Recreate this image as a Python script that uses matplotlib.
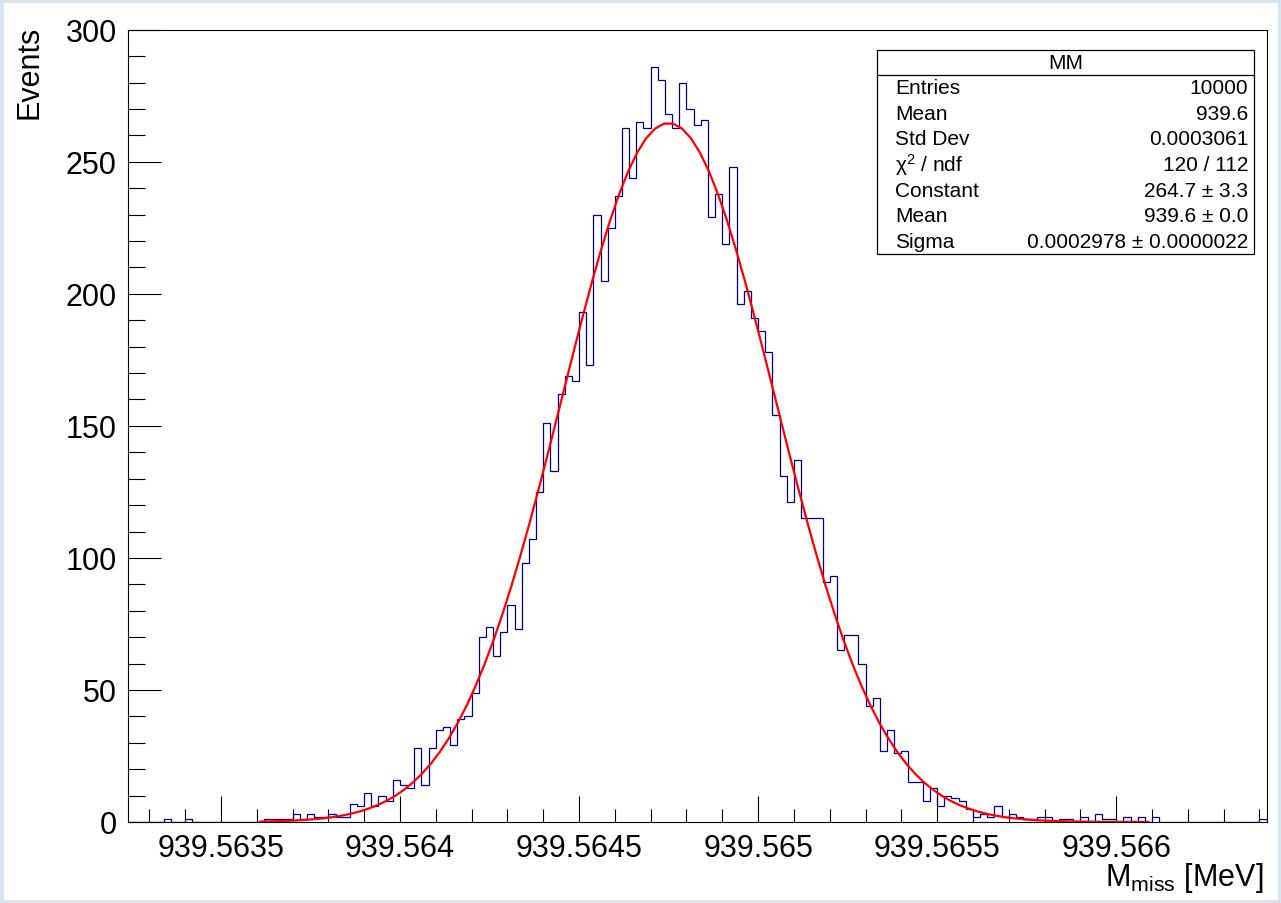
import numpy as np
import matplotlib.pyplot as plt
from matplotlib.patches import Rectangle
from matplotlib.lines import Line2D

plt.rcParams['font.family'] = ['Liberation Sans', 'DejaVu Sans']
plt.rcParams['mathtext.fontset'] = 'custom'
plt.rcParams['mathtext.rm'] = 'Liberation Sans'
plt.rcParams['mathtext.it'] = 'Liberation Sans:italic'

# histogram: 159 bins of 0.00002 MeV starting at x_lo
x_lo = 939.56324
bin_w = 0.00002
counts = [
    0, 0, 0, 0, 0, 1, 0, 0, 1, 0,
    0, 0, 0, 0, 0, 0, 0, 0, 0, 1,
    1, 1, 1, 3, 1, 3, 2, 2, 3, 2,
    2, 7, 6, 11, 6, 10, 8, 16, 14, 13,
    28, 14, 28, 35, 36, 29, 39, 40, 49, 70,
    74, 63, 72, 82, 73, 98, 107, 125, 151, 133,
    162, 169, 167, 193, 173, 230, 205, 225, 237, 263,
    244, 265, 263, 286, 281, 268, 263, 280, 270, 264,
    266, 229, 238, 219, 248, 196, 201, 191, 186, 178,
    154, 131, 121, 137, 115, 115, 115, 91, 93, 65,
    71, 71, 60, 44, 47, 27, 35, 26, 27, 15,
    15, 8, 13, 6, 10, 9, 8, 5, 2, 3,
    2, 6, 2, 3, 2, 1, 1, 2, 2, 0,
    1, 1, 0, 2, 0, 3, 1, 1, 0, 2,
    0, 2, 0, 2, 0, 0, 0, 0, 0, 0,
    0, 0, 0, 0, 0, 0, 0, 0, 1,
]

# gaussian fit
fit_const = 264.7
fit_mean = 939.56475
fit_sigma = 0.0002978
fit_lo = 939.56361
fit_hi = 939.56609

x_ticks = [939.5635, 939.564, 939.5645, 939.565, 939.5655, 939.566]
x_tick_labels = ['939.5635', '939.564', '939.5645', '939.565', '939.5655', '939.566']
y_ticks = [0, 50, 100, 150, 200, 250, 300]

stat_title = 'MM'
stat_names = ['Entries', 'Mean', 'Std Dev', 'χ$^{2}$ / ndf', 'Constant', 'Mean', 'Sigma']
stat_values = ['10000', '939.6', '0.0003061', '120 / 112', '264.7 ± 3.3',
               '939.6 ± 0.0', '0.0002978 ± 0.0000022']

W, H = 1281, 904
fig = plt.figure(figsize=(W / 100, H / 100), dpi=100)
fig.patch.set_facecolor('white')

def fx(px):
    return px / W

def fy(py):
    return 1 - py / H

# light blue window border of the screenshot
fig.patches.append(Rectangle((0, 0), 1, 1, transform=fig.transFigure, fill=False,
                             edgecolor='#d7e5f2', linewidth=5))

ax = fig.add_axes([fx(127.8), fy(823), fx(1266.6) - fx(127.8), fy(30.8) - fy(823)])

edges = x_lo + bin_w * np.arange(len(counts) + 1)
ax.stairs(counts, edges, color='#000099', linewidth=0.9, zorder=2)

xf = np.linspace(fit_lo, fit_hi, 100)
yf = fit_const * np.exp(-0.5 * ((xf - fit_mean) / fit_sigma) ** 2)
ax.plot(xf, yf, color='#ff0000', linewidth=1.6, zorder=3)

ax.set_xlim(edges[0], edges[-1])
ax.set_ylim(0, 300)

ax.set_xticks(x_ticks)
ax.set_xticklabels(x_tick_labels)
minor_x = [x_ticks[0] + 0.0001 * k for k in range(-3, 30)]
minor_x = [m for m in minor_x if edges[0] <= m <= edges[-1]]
ax.set_xticks(minor_x, minor=True)
ax.set_yticks(y_ticks)
ax.set_yticks(np.arange(0, 301, 10), minor=True)

ax.tick_params(axis='x', which='major', direction='in', length=18.5, width=0.8,
               labelsize=22, pad=8, top=False)
ax.tick_params(axis='x', which='minor', direction='in', length=9.3, width=0.8, top=False)
ax.tick_params(axis='y', which='major', direction='in', length=24, width=0.8,
               labelsize=22, pad=8, right=False)
ax.tick_params(axis='y', which='minor', direction='in', length=12, width=0.8, right=False)
for s in ax.spines.values():
    s.set_linewidth(0.8)

fig.text(fx(30), fy(26), 'Events', rotation=90, ha='center', va='top', fontsize=22)
fig.text(fx(1263), fy(878), r'M$_{\mathrm{miss}}$ [MeV]', ha='right', va='center', fontsize=22)

# stats box
bx0, by0, bx1, by1 = 877, 51, 1254, 255
fig.patches.append(Rectangle((fx(bx0), fy(by1)), fx(bx1) - fx(bx0), fy(by0) - fy(by1),
                             transform=fig.transFigure, facecolor='white',
                             edgecolor='black', linewidth=0.9, zorder=5))
fig.lines.append(Line2D([fx(bx0), fx(bx1)], [fy(76), fy(76)], transform=fig.transFigure,
                        color='black', linewidth=0.9, zorder=6))
fig.text(fx((bx0 + bx1) / 2), fy(63.5), stat_title, ha='center', va='center',
         fontsize=15, zorder=7)
row_h = (by1 - 76) / len(stat_names)
for k, (name, val) in enumerate(zip(stat_names, stat_values)):
    yc = 76 + row_h * (k + 0.5)
    fig.text(fx(895), fy(yc), name, ha='left', va='center', fontsize=15, zorder=7)
    fig.text(fx(1248), fy(yc), val, ha='right', va='center', fontsize=15, zorder=7)

fig.savefig('out.png', dpi=100)
